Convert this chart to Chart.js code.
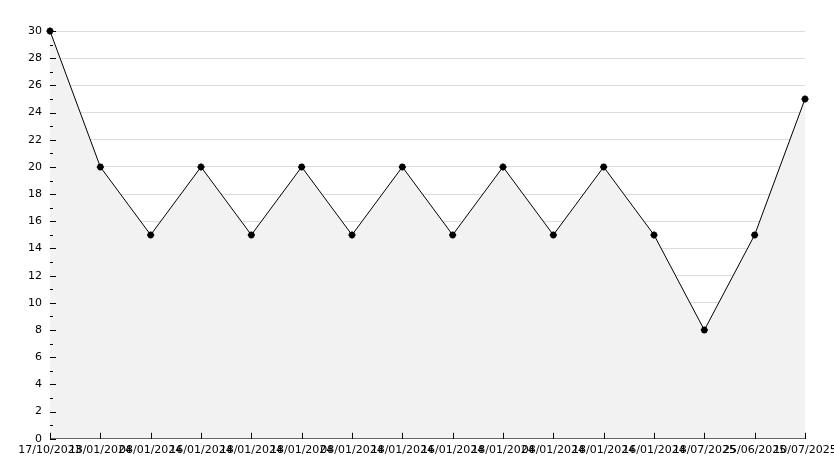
<!DOCTYPE html>
<html>
<head>
<meta charset="utf-8">
<script src="https://cdn.jsdelivr.net/npm/chart.js@4"></script>
<style>
  html, body { margin: 0; padding: 0; background: #fff; }
  #wrap { width: 834px; height: 468px; }
</style>
</head>
<body>
<div id="wrap"><canvas id="grafico"></canvas></div>
<script>
// datas e valores
const datas = ['17/10/2023', '18/01/2024', '08/01/2024', '16/01/2024', '18/01/2024', '18/01/2024',
  '08/01/2024', '18/01/2024', '16/01/2024', '18/01/2024', '08/01/2024', '18/01/2024',
  '16/01/2024', '18/07/2025', '25/06/2025', '10/07/2025'];
const valores = [30, 20, 15, 20, 15, 20, 15, 20, 15, 20, 15, 20, 15, 8, 15, 25];
const yMin = 0, yMax = 30, yPasso = 2;

// marcas curtas para dentro da área do gráfico
const marcasInternas = {
  id: 'marcasInternas',
  afterDatasetsDraw(chart) {
    const { ctx, chartArea, scales } = chart;
    ctx.save();
    ctx.strokeStyle = '#000';
    ctx.lineWidth = 1;
    ctx.beginPath();
    for (let v = yMin; v <= yMax; v++) {
      const y = Math.round(scales.y.getPixelForValue(v)) + 0.5;
      const len = v % 2 === 0 ? 6 : 3;
      ctx.moveTo(chartArea.left, y);
      ctx.lineTo(chartArea.left + len, y);
    }
    datas.forEach((d, i) => {
      const x = Math.round(scales.x.getPixelForValue(i)) + 0.5;
      ctx.moveTo(x, chartArea.bottom);
      ctx.lineTo(x, chartArea.bottom - 6);
    });
    ctx.stroke();
    ctx.restore();
  }
};

new Chart(document.getElementById('grafico'), {
  type: 'line',
  data: {
    labels: datas,
    datasets: [{
      data: valores,
      clip: false,
      borderColor: '#000',
      borderWidth: 1,
      backgroundColor: '#f2f2f2',
      fill: 'origin',
      tension: 0,
      pointStyle: 'star',
      pointRadius: 3.5,
      pointBorderWidth: 2,
      pointBorderColor: '#000',
      pointBackgroundColor: '#000'
    }]
  },
  options: {
    responsive: true,
    maintainAspectRatio: false,
    animation: false,
    layout: { padding: { top: 31, right: 0, bottom: 6, left: 8 } },
    plugins: { legend: { display: false }, tooltip: { enabled: false } },
    scales: {
      x: {
        offset: false,
        grid: { display: false, drawTicks: false },
        border: { color: '#000', width: 1 },
        afterFit(s) { s.paddingRight = 29; },
        ticks: {
          autoSkip: false, maxRotation: 0, minRotation: 0, padding: 5,
          color: '#000', font: { family: 'DejaVu Sans', size: 11 }
        }
      },
      y: {
        min: yMin, max: yMax,
        grid: { color: '#dcdcdc', drawTicks: false },
        border: { color: '#000', width: 1 },
        afterFit(s) { s.width = 42; },
        ticks: {
          stepSize: yPasso, padding: 8,
          color: '#000', font: { family: 'DejaVu Sans', size: 11 }
        }
      }
    }
  },
  plugins: [marcasInternas]
});
</script>
</body>
</html>
